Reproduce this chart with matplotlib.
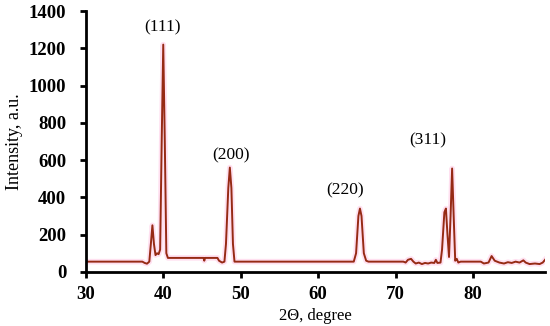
import matplotlib.pyplot as plt

plt.rcParams['font.family'] = ['Liberation Serif', 'DejaVu Serif']

two_theta = [30, 37.3, 37.6, 37.9, 38.2, 38.4, 38.6, 38.8, 39.0, 39.2, 39.4, 39.6, 39.8, 40.0, 40.2,
             40.4, 40.6, 45.2, 45.3, 45.4, 47.0, 47.2, 47.6, 47.9, 48.1, 48.4, 48.6, 48.8, 49.0,
             49.2, 64.6, 64.9, 65.2, 65.4, 65.6, 65.9, 66.2, 66.5, 71.0, 71.3, 71.6, 72.0, 72.3,
             72.6, 73.0, 73.4, 73.8, 74.2, 74.6, 75.0, 75.2, 75.4, 75.8, 76.0, 76.3, 76.5, 76.7,
             76.9, 77.1, 77.3, 77.5, 77.7, 77.9, 78.1, 78.4, 81.0, 81.4, 82.0, 82.4, 82.8, 83.4,
             84.0, 84.5, 85.0, 85.5, 86.0, 86.5, 86.8, 87.3, 88.0, 88.6, 89.0, 89.3]
intensity = [55, 55, 48, 44, 55, 150, 250, 150, 90, 100, 95, 120, 700, 1220, 700,
             100, 75, 75, 60, 75, 75, 60, 50, 55, 150, 450, 560, 450, 150,
             55, 55, 100, 300, 340, 300, 100, 60, 55, 55, 50, 65, 70, 55,
             45, 50, 42, 48, 45, 50, 48, 65, 48, 50, 120, 320, 340, 200,
             80, 300, 555, 300, 60, 70, 50, 55, 55, 45, 50, 85, 60, 50,
             45, 52, 48, 55, 50, 62, 50, 42, 45, 42, 50, 65]

peak_labels = ['(111)', '(200)', '(220)', '(311)']
label_x = [39.9, 48.7, 63.5, 74.2]
label_y = [1314, 628, 440, 708]

fig = plt.figure(figsize=(5.5, 3.26), dpi=100)
ax = fig.add_axes([0.156, 0.166, 0.835, 0.8])

ax.plot(two_theta, intensity, color='#ff9ad0', linewidth=4, alpha=0.3)
ax.plot(two_theta, intensity, color='#962a14', linewidth=1.4)

for lab, lx, ly in zip(peak_labels, label_x, label_y):
    ax.text(lx, ly, lab, ha='center', va='center', fontsize=12.5)

ax.set_xlim(30, 89.3)
ax.set_ylim(0, 1400)
ax.set_xticks([30, 40, 50, 60, 70, 80])
ax.set_yticks(range(0, 1401, 200))
for lbl in ax.get_xticklabels() + ax.get_yticklabels():
    lbl.set_fontweight('bold')
    lbl.set_fontsize(13.5)

ax.spines['top'].set_visible(False)
ax.spines['right'].set_visible(False)
ax.spines['left'].set_linewidth(2)
ax.spines['bottom'].set_linewidth(2)
ax.tick_params(width=2, length=4)
ax.tick_params(axis='y', pad=10)
ax.tick_params(axis='x', pad=6)

ax.set_xlabel('2Θ, degree', fontsize=12)
ax.set_ylabel('Intensity, a.u.', fontsize=13)

fig.savefig('out.png', dpi=100)
